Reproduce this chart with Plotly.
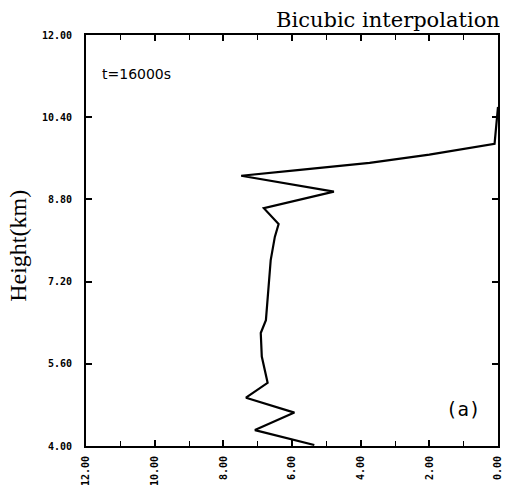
import plotly.graph_objects as go

heights = [10.60, 10.40, 9.88, 9.67, 9.51, 9.37, 9.26, 8.95, 8.63, 8.32, 8.07, 7.62,
           6.84, 6.45, 6.20, 5.74, 5.23, 4.94, 4.65, 4.31, 4.02]
values = [0.00, 0.03, 0.10, 2.00, 3.74, 5.84, 7.48, 4.78, 6.82, 6.39, 6.50, 6.62,
          6.70, 6.76, 6.91, 6.88, 6.71, 7.34, 5.93, 7.08, 5.35]

x_ticks = [12, 10, 8, 6, 4, 2, 0]
x_tick_labels = ["12.00", "10.00", "8.00", "6.00", "4.00", "2.00", "0.00"]
y_ticks = [4.0, 5.6, 7.2, 8.8, 10.4, 12.0]
y_tick_labels = ["4.00", "5.60", "7.20", "8.80", "10.40", "12.00"]

fig = go.Figure()
fig.add_trace(go.Scatter(x=values, y=heights, mode="lines",
                         line=dict(color="black", width=2.2), showlegend=False))

tickfont = dict(family="DejaVu Sans Mono", size=10, color="black", weight="bold")

fig.update_xaxes(range=[12, 0], tickvals=x_ticks, ticktext=x_tick_labels,
                 tickangle=-90, tickfont=tickfont, ticks="inside", ticklen=6,
                 tickwidth=1.5, tickcolor="black", showgrid=False, zeroline=False,
                 showline=True, linecolor="black", linewidth=2, mirror="ticks",
                 ticklabelstandoff=4,
                 minor=dict(dtick=1, ticks="inside", ticklen=5, tickcolor="black", tickwidth=1.2))
fig.update_yaxes(range=[4, 12], tickvals=y_ticks, ticktext=y_tick_labels,
                 tickfont=tickfont, ticks="inside", ticklen=6, tickwidth=1.5,
                 tickcolor="black", showgrid=False, zeroline=False,
                 showline=True, linecolor="black", linewidth=2, mirror="ticks",
                 ticklabelstandoff=10)

fig.add_annotation(text="Height(km)", xref="paper", yref="paper", x=0, y=0.487,
                   xanchor="center", yanchor="middle", textangle=-90, xshift=-68,
                   showarrow=False,
                   font=dict(family="Liberation Serif", size=24, color="black"))
fig.add_annotation(text="Bicubic interpolation", xref="paper", yref="paper", x=1.0, y=1.0,
                   xanchor="right", yanchor="bottom", showarrow=False, yshift=1, xshift=4,
                   font=dict(family="DejaVu Serif", size=21, color="black"))
fig.add_annotation(text="t=16000s", xref="paper", yref="paper", x=0.035, y=0.905,
                   xanchor="left", yanchor="middle", showarrow=False,
                   font=dict(family="DejaVu Sans", size=14, color="black"))
fig.add_annotation(text="(a)", xref="paper", yref="paper", x=0.96, y=0.09,
                   xanchor="right", yanchor="middle", showarrow=False,
                   font=dict(family="DejaVu Sans Mono", size=19, color="black"))

fig.update_layout(width=510, height=501, margin=dict(l=86, r=7, t=35, b=55),
                  paper_bgcolor="white", plot_bgcolor="white")

fig.write_html("out.html", config={"displayModeBar": False},
               post_script="document.body.style.margin='0';")
